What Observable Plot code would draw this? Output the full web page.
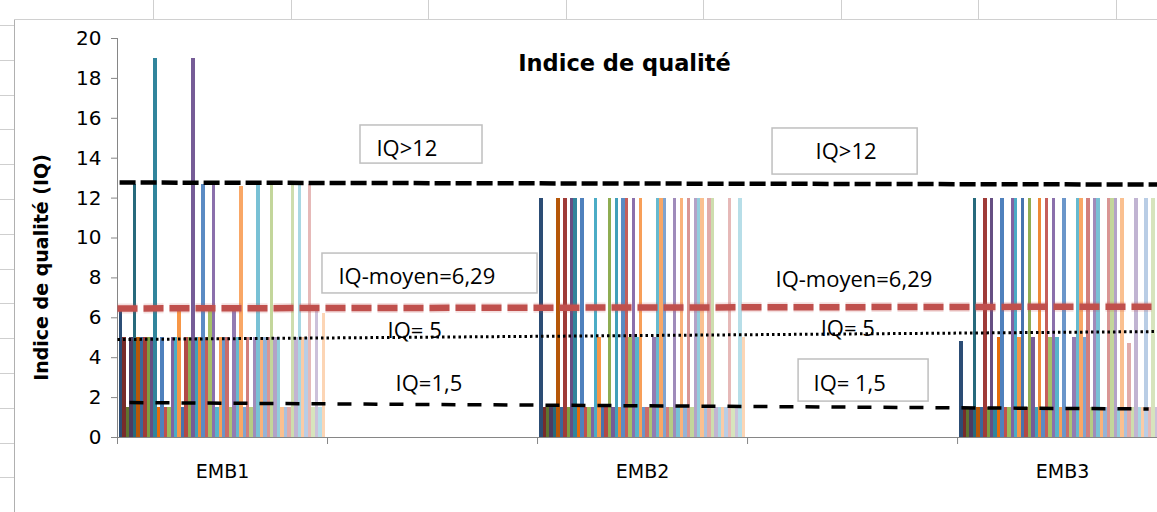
<!DOCTYPE html>
<html><head><meta charset="utf-8">
<script src="https://cdn.jsdelivr.net/npm/d3@7"></script>
<script src="https://cdn.jsdelivr.net/npm/@observablehq/plot@0.6"></script>
<style>
html,body{margin:0;padding:0;background:#fff;overflow:hidden;}
#wrap{position:relative;width:1157px;height:512px;overflow:hidden;}
#chart{position:absolute;left:0;top:0;}
.sheet{position:absolute;background:#cfcfcf;}
</style></head><body>
<div id="wrap"><div id="chart"></div></div>
<script>
// ---- data ----
const slots = ["EMB1", "", "EMB2", "", "EMB3"];
const categories = ["EMB1", "EMB2", "EMB3"];
const EMB1 = [6.3,5,1.5,5,12.7,5,5,5,5,5, 19,1.5,5,1.5,1.5,5,5,6.3,1.5,5, 5,19,5,5,12.7,5,6.3,12.7,1.5,5,
              5,5,1.5,6.3,5,12.6,1.5,5,1.5,5, 12.7,5,5,5,12.7,5,5,1.5,1.5,1.5, 12.7,5,12.7,5,5,12.7,1.5,6.3,1.5,6.2];
const EMB2 = [12,1.5,1.5,1.5,1.5,12,1.5,12,1.5,12, 12,1.5,12,1.5,1.5,1.5,12,5,1.5,1.5, 12,1.5,12,1.5,12,12,5,12,5,12,
              1.5,1.5,1.5,5,12,12,12,1.5,1.5,12, 1.5,12,1.5,12,1.5,12,12,12,1.5,12, 12,1.5,1.5,1.5,1.5,12,1.5,1.5,12,5];
const EMB3 = [4.8,1.5,1.5,1.5,12,1.5,1.5,12,1.5,12, 1.5,5,12,1.5,1.5,12,12,5,12,1.5, 12,5,1.5,12,1.5,12,5,12,5,1.5,
              12,1.5,1.5,5,12,12,5,12,1.5,12, 12,1.5,1.5,12,12,12,1.5,12,1.5,4.7, 1.5,12,1.5,1.5,12,1.5,12,1.5,1.5,1.5];
const seriesValues = {EMB1, EMB2, EMB3};
const yTicks = [0,2,4,6,8,10,12,14,16,18,20];

// series colours (Excel 2010 theme variants, 6 hues x 10 shades)
const palette = [
  "#2C4D75","#772C2A","#5F7530","#4D3B62","#276A7C","#B65708",
  "#3A679C","#9F3B38","#7E9D40","#664F83","#31859C","#E46C0A",
  "#4F81BD","#C0504D","#9BBB59","#8064A2","#4BACC6","#F79646",
  "#4674AE","#B24946","#8FAD52","#765C97","#41A0BA","#EE8A36",
  "#5B8BC4","#C65F5C","#A4C167","#8B70AC","#58B3CB","#F89F58",
  "#6B96CA","#CA6C69","#ABC675","#937BB2","#66B9CF","#F9A766",
  "#7FA4D0","#D17F7D","#B5CC85","#A08BBA","#79C1D5","#FAB27A",
  "#95B3D7","#D99694","#C3D69B","#B3A2C7","#93CDDD","#FAC090",
  "#A9C1DE","#E0ABAA","#CEDDAE","#C1B4D2","#A8D7E3","#FBCBA6",
  "#B9CDE5","#E6B9B8","#D7E4BD","#CCC1DA","#B7DEE8","#FCD5B5"
];

// hand-drawn reference lines (x in category slots, y in IQ)
const lineIQ12  = [{x:0.01,y:12.78},{x:4.95,y:12.68}];
const lineMoyen = [{x:0.0,y:6.47},{x:4.95,y:6.56}];
const lineIQ5   = [{x:0.0,y:4.91},{x:4.95,y:5.31}];
const lineIQ15  = [{x:0.057,y:1.75},{x:4.91,y:1.43}];

// annotation boxes and labels
const boxes = [
  {x1:1.157,x2:1.738,y1:13.73,y2:15.64},
  {x1:3.119,x2:3.810,y1:13.18,y2:15.49},
  {x1:0.976,x2:2.0,y1:7.22,y2:9.22},
  {x1:3.243,x2:3.862,y1:1.80,y2:3.91}
];
const labels = [
  {x:1.233,y:14.44,text:"IQ>12"},
  {x:3.324,y:14.29,text:"IQ>12"},
  {x:1.052,y:8.07,text:"IQ-moyen=6,29"},
  {x:3.133,y:7.92,text:"IQ-moyen=6,29"},
  {x:1.286,y:5.33,text:"IQ= 5"},
  {x:3.348,y:5.46,text:"IQ= 5"},
  {x:1.324,y:2.66,text:"IQ=1,5"},
  {x:3.314,y:2.66,text:"IQ= 1,5"}
];

// ---- layout constants ----
const N = 60;          // series per category
const GAP = 1.2;       // gap between clusters, in bar widths
const visibleSlots = 4.952;

const rows = [];
for (const cat of categories) {
  seriesValues[cat].forEach((v, i) => rows.push({cat, slot: slots.indexOf(cat), series: i, value: v}));
}

const labelTicks = slots.map((s, i) => s ? i + 0.5 : null).filter(d => d !== null);
const dashed = {strokeLinecap: "butt", strokeLinejoin: "miter", clip: true};

const chart = Plot.plot({
  width: 1157, height: 512,
  marginLeft: 117, marginRight: 0, marginTop: 38, marginBottom: 75,
  x: {domain: [0, visibleSlots]},
  y: {domain: [0, 20]},
  color: {type: "identity"},
  style: {fontFamily: "'DejaVu Sans', sans-serif", fontSize: "19px", color: "#000", background: "transparent"},
  marks: [
    Plot.rect(rows, {
      x1: d => d.slot + (GAP / 2 + d.series) / (N + GAP),
      x2: d => d.slot + (GAP / 2 + d.series + 1) / (N + GAP),
      y1: 0, y2: "value",
      fill: d => palette[d.series % palette.length],
      shapeRendering: "crispEdges",
      clip: true
    }),
    Plot.ruleX([0], {stroke: "#868686", strokeWidth: 1}),
    Plot.ruleY([0], {stroke: "#868686", strokeWidth: 1}),
    Plot.axisY({ticks: yTicks, tickSize: 6, tickPadding: 10, label: null, stroke: "#868686", fontSize: 20}),
    Plot.axisX({ticks: [0,1,2,3,4], tickSize: 7, tickFormat: () => "", label: null, stroke: "#868686"}),
    Plot.axisX({ticks: labelTicks, tickSize: 0, tickPadding: 27, label: null, fontSize: 19,
                tickFormat: d => slots[Math.floor(d)]}),
    Plot.rect(boxes, {x1: "x1", x2: "x2", y1: "y1", y2: "y2", fill: "white", stroke: "#BFBFBF", strokeWidth: 1.5}),
    Plot.text(labels, {x: "x", y: "y", text: "text", textAnchor: "start", fontSize: 22,
                       fontFamily: "'Open Sans', sans-serif", fill: "#000"}),
    Plot.line(lineMoyen, {x: "x", y: "y", stroke: "#C0504D", strokeWidth: 10, strokeOpacity: 0.18,
                          strokeDasharray: "20,6", ...dashed}),
    Plot.line(lineMoyen, {x: "x", y: "y", stroke: "#C0504D", strokeWidth: 6.5,
                          strokeDasharray: "20,6", ...dashed}),
    Plot.line(lineIQ12, {x: "x", y: "y", stroke: "#000", strokeWidth: 4.5, strokeDasharray: "16,5", ...dashed}),
    Plot.line(lineIQ5, {x: "x", y: "y", stroke: "#000", strokeWidth: 3, strokeDasharray: "2.5,3", ...dashed}),
    Plot.line(lineIQ15, {x: "x", y: "y", stroke: "#000", strokeWidth: 3.5, strokeDasharray: "14,12", ...dashed}),
    Plot.text(["Indice de qualité"], {frameAnchor: "top", dx: -13, dy: 25, lineAnchor: "middle",
                                     fontSize: 22.5, fontWeight: "bold"}),
    Plot.text(["Indice de qualité (IQ)"], {frameAnchor: "left", textAnchor: "middle", lineAnchor: "middle",
                                          rotate: -90, dx: -76, dy: 29.5, fontSize: 19, fontWeight: "bold"})
  ]
});
document.getElementById("chart").appendChild(chart);

// spreadsheet remnants around the chart object
const wrap = document.getElementById("wrap");
function addLine(l, t, w, h, c) {
  const d = document.createElement("div");
  d.className = "sheet";
  d.style.cssText = `left:${l}px;top:${t}px;width:${w}px;height:${h}px;` + (c ? `background:${c};` : "");
  wrap.appendChild(d);
}
addLine(14, 19, 1, 493, "#b0b0b0");
addLine(14, 19, 1143, 1, "#d0d0d0");
for (let y = 25; y < 512; y += 34.8) addLine(0, Math.round(y), 14, 1);
for (let x = 153; x < 1157; x += 137.5) addLine(Math.round(x), 0, 1, 19);
</script>
</body></html>
